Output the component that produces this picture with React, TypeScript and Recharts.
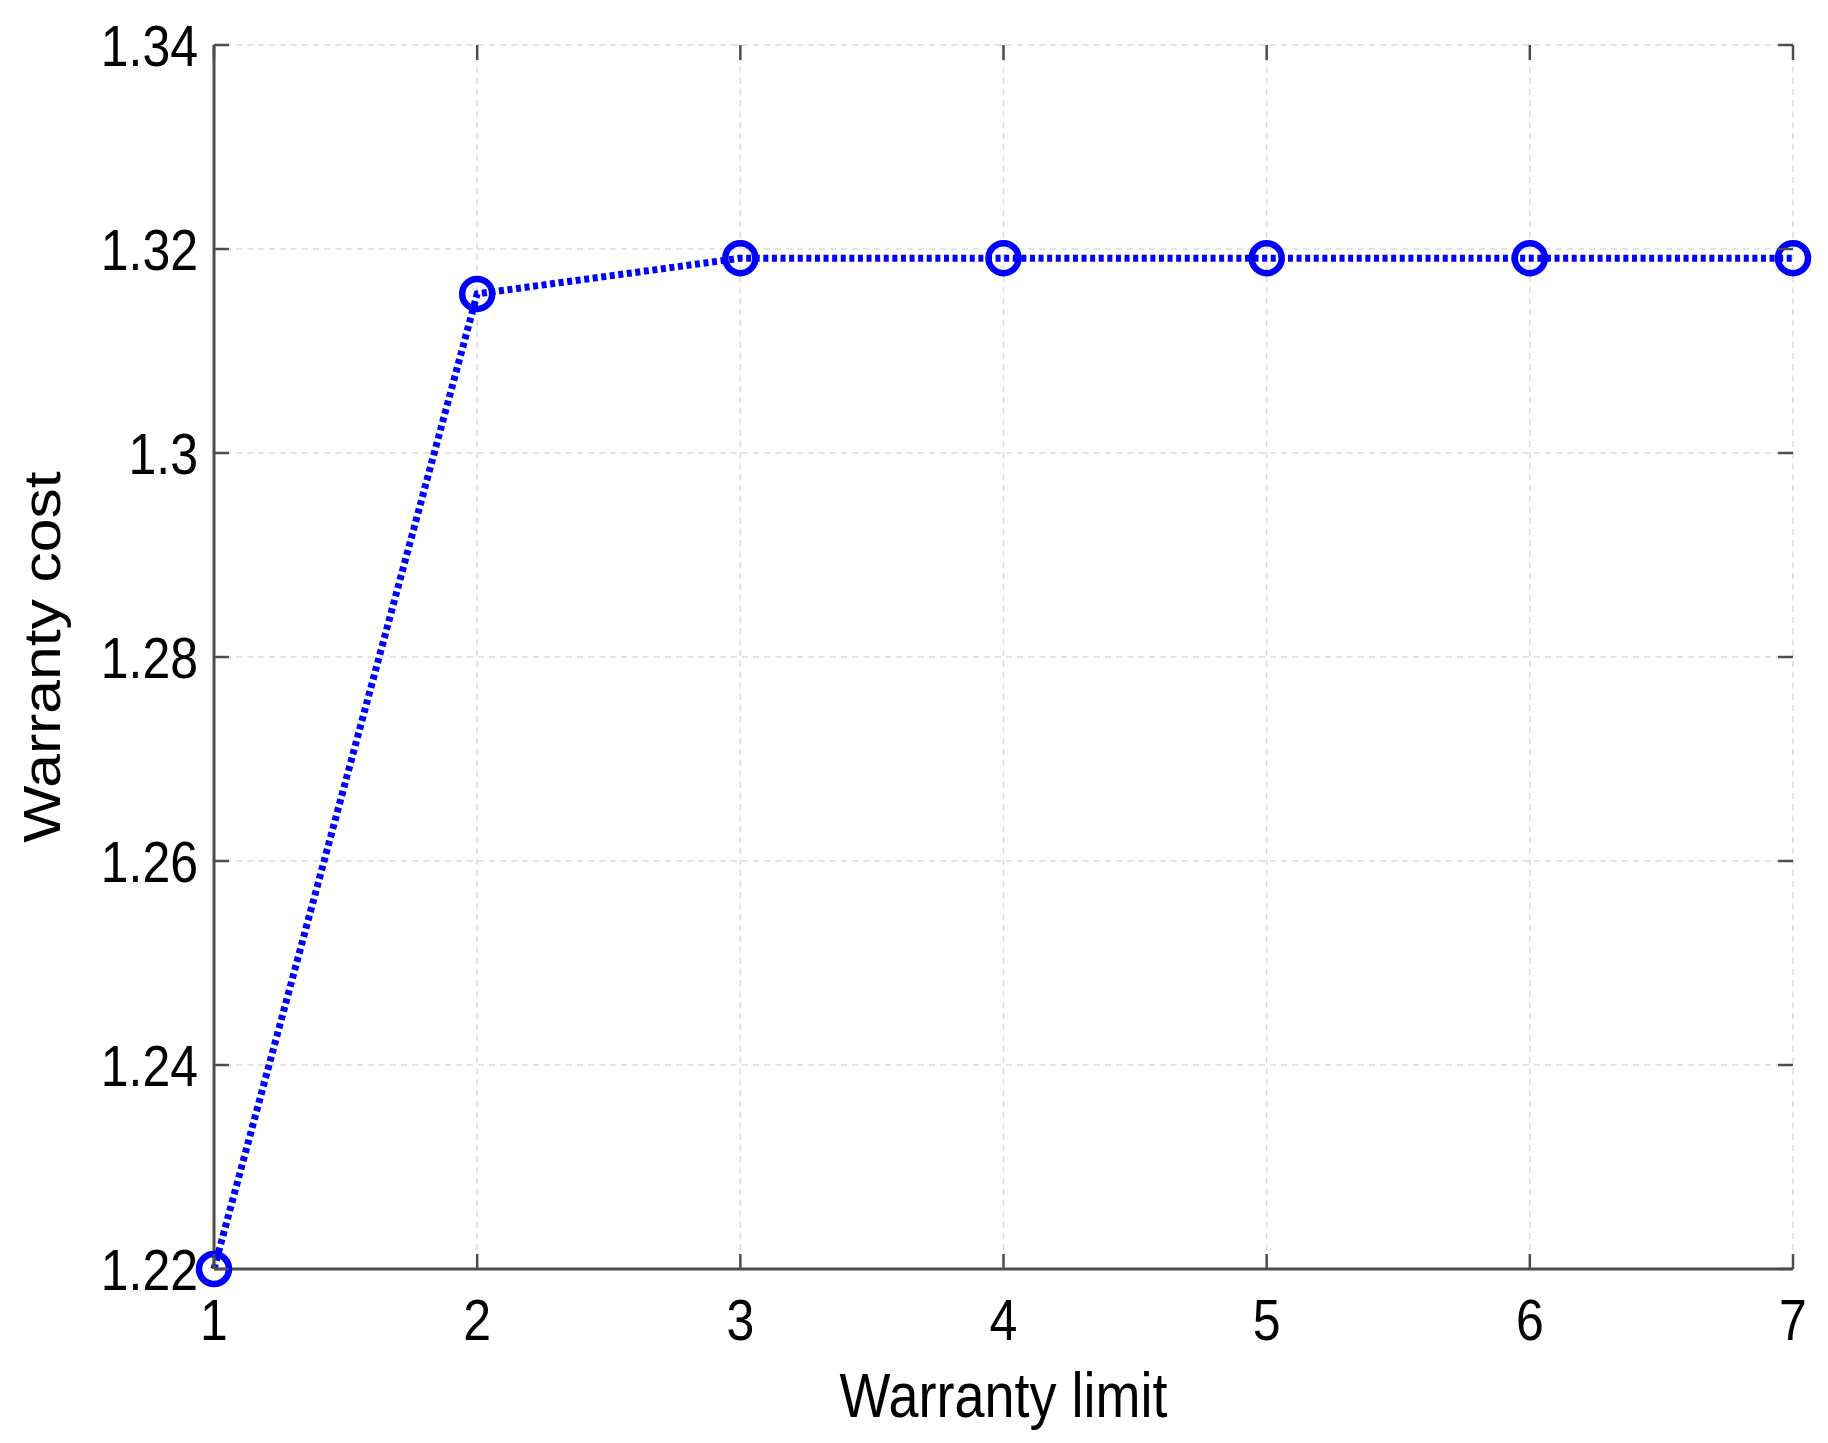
import React from 'react';
import { LineChart, Line, XAxis, YAxis, CartesianGrid } from 'recharts';

const warrantyLimits = [1, 2, 3, 4, 5, 6, 7];
const warrantyCosts = [1.22, 1.3156, 1.3191, 1.3191, 1.3191, 1.3191, 1.3191];
const xTicks = [1, 2, 3, 4, 5, 6, 7];
const yTicks = [1.22, 1.24, 1.26, 1.28, 1.3, 1.32, 1.34];

const data = warrantyLimits.map((limit, i) => ({ limit, cost: warrantyCosts[i] }));

const WIDTH = 1828;
const HEIGHT = 1443;
const LEFT = 214;
const TOP = 45;
const RIGHT = 1793;
const BOTTOM = 1269;
const PLOT_W = RIGHT - LEFT;
const PLOT_H = BOTTOM - TOP;
const TICK_LEN = 15;
const FRAME = '#4d4d4d';
const FONT = '"Liberation Sans", Arial, sans-serif';
const STRETCH = 1.165; // text in the source looks vertically stretched
const BLUE = '#0000ff';

const YTick = (props: any) => {
  const { x, y, payload } = props;
  return (
    <g>
      <line x1={x} y1={y} x2={x + TICK_LEN} y2={y} stroke={FRAME} strokeWidth={2.5} />
      <line x1={x + PLOT_W} y1={y} x2={x + PLOT_W - TICK_LEN} y2={y} stroke={FRAME} strokeWidth={2.5} />
      <text
        transform={`translate(${x - 16},${y}) scale(1,${STRETCH})`}
        textAnchor="end"
        dy="0.358em"
        fontSize={50}
        fontFamily={FONT}
        fill="#000"
      >
        {payload.value}
      </text>
    </g>
  );
};

const XTick = (props: any) => {
  const { x, y, payload } = props;
  return (
    <g>
      <line x1={x} y1={y} x2={x} y2={y - TICK_LEN} stroke={FRAME} strokeWidth={2.5} />
      <line x1={x} y1={y - PLOT_H} x2={x} y2={y - PLOT_H + TICK_LEN} stroke={FRAME} strokeWidth={2.5} />
      <text
        transform={`translate(${x},${y + 71}) scale(1,${STRETCH})`}
        textAnchor="middle"
        fontSize={50}
        fontFamily={FONT}
        fill="#000"
      >
        {payload.value}
      </text>
    </g>
  );
};

const XLabel = (props: any) => {
  const vb = props.viewBox || {};
  const cx = (vb.x ?? LEFT) + (vb.width ?? PLOT_W) / 2;
  return (
    <text
      transform={`translate(${cx},${BOTTOM + 148}) scale(1,${STRETCH})`}
      textAnchor="middle"
      fontSize={54}
      fontFamily={FONT}
      fill="#000"
    >
      Warranty limit
    </text>
  );
};

const YLabel = () => (
  <text
    transform={`translate(60,${(TOP + BOTTOM) / 2}) rotate(-90) scale(${STRETCH},1)`}
    textAnchor="middle"
    fontSize={52}
    fontFamily={FONT}
    fill="#000"
  >
    Warranty cost
  </text>
);

const RingDot = (props: any) => {
  const { cx, cy, index } = props;
  if (cx == null || cy == null) return null;
  return <circle key={index} cx={cx} cy={cy} r={15} fill="none" stroke={BLUE} strokeWidth={6.5} />;
};

export default function App() {
  return (
    <div style={{ position: 'absolute', left: 0, top: 0, background: '#fff' }}>
      <LineChart
        width={WIDTH}
        height={HEIGHT}
        data={data}
        margin={{ top: TOP, right: WIDTH - RIGHT, bottom: HEIGHT - BOTTOM - 100, left: LEFT - 120 }}
      >
        <CartesianGrid stroke="#dcdcdc" strokeWidth={1.5} strokeDasharray="6 5" />
        <XAxis
          dataKey="limit"
          type="number"
          domain={[1, 7]}
          ticks={xTicks}
          height={100}
          tickSize={0}
          tickMargin={0}
          tickLine={false}
          axisLine={{ stroke: FRAME, strokeWidth: 3 }}
          tick={<XTick />}
          label={<XLabel />}
        />
        <XAxis
          xAxisId="top"
          orientation="top"
          type="number"
          domain={[1, 7]}
          height={0}
          tick={false}
          tickLine={false}
          axisLine={{ stroke: FRAME, strokeWidth: 3 }}
        />
        <YAxis
          type="number"
          domain={[1.22, 1.34]}
          ticks={yTicks}
          width={120}
          tickSize={0}
          tickMargin={0}
          tickLine={false}
          axisLine={{ stroke: FRAME, strokeWidth: 3 }}
          tick={<YTick />}
          label={<YLabel />}
        />
        <YAxis
          yAxisId="right"
          orientation="right"
          type="number"
          domain={[1.22, 1.34]}
          width={0}
          tick={false}
          tickLine={false}
          axisLine={{ stroke: FRAME, strokeWidth: 3 }}
        />
        <Line
          type="linear"
          dataKey="cost"
          stroke={BLUE}
          strokeWidth={7}
          strokeDasharray="5 3.6"
          dot={<RingDot />}
          activeDot={false}
          isAnimationActive={false}
        />
      </LineChart>
    </div>
  );
}
